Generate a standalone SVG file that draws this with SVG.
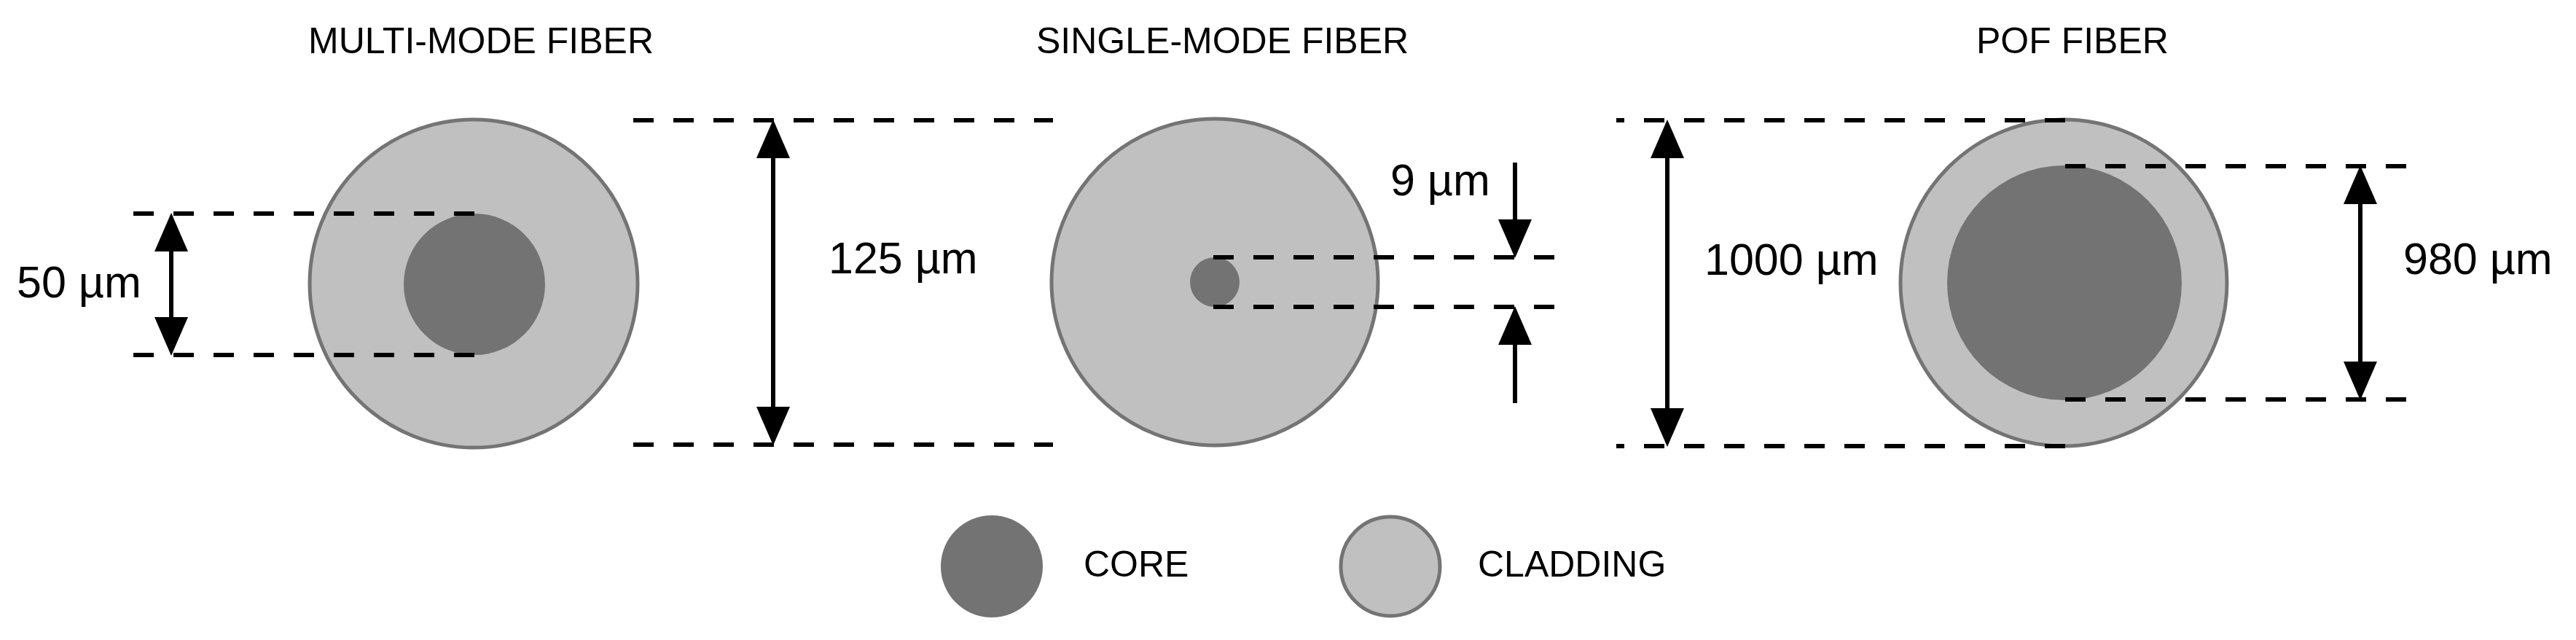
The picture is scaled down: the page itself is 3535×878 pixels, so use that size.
<svg xmlns="http://www.w3.org/2000/svg" width="3535" height="878" viewBox="0 0 3535 878">
<style>
.t{font-family:"Liberation Sans",Arial,sans-serif;fill:#000}
.title{font-size:50px}
.dim{font-size:61px}
.leg{font-size:50px}
.clad{fill:#c0c0c0;stroke:#747474;stroke-width:5}
.core{fill:#737373}
.dash{stroke:#000;stroke-width:6;stroke-dasharray:28 27;fill:none}
.arr{stroke:#000;stroke-width:6;fill:none}
.dbl{marker-start:url(#ah);marker-end:url(#ah)}
.one{marker-end:url(#ah)}
</style>
<defs>
<marker id="ah" markerUnits="userSpaceOnUse" markerWidth="54" markerHeight="48" refX="22" refY="23" orient="auto-start-reverse" viewBox="0 0 54 48">
<path d="M0,0 L53,23 L0,46 z" fill="#000"/>
</marker>
</defs>
<rect width="3535" height="878" fill="#fff"/>
<g id="multimode">
<text class="t title" x="423" y="73">MULTI-MODE FIBER</text>
<circle class="clad" cx="650" cy="389" r="225"/>
<circle class="core" cx="651" cy="390" r="97"/>
</g>
<g id="singlemode">
<text class="t title" x="1422" y="73">SINGLE-MODE FIBER</text>
<circle class="clad" cx="1667" cy="387" r="224"/>
<circle class="core" cx="1667" cy="387" r="34"/>
</g>
<g id="pof">
<text class="t title" x="2712" y="73">POF FIBER</text>
<circle class="clad" cx="2832" cy="388" r="224"/>
<circle class="core" cx="2833" cy="388" r="161"/>
</g>
<g id="connectors">
<line class="dash" x1="651" y1="293" x2="172" y2="293"/>
<line class="dash" x1="651" y1="487" x2="172" y2="487"/>
<line class="arr dbl" x1="235" y1="323" x2="235" y2="457"/>
<line class="dash" x1="869" y1="165" x2="1445" y2="165"/>
<line class="dash" x1="869" y1="610" x2="1445" y2="610"/>
<line class="arr dbl" x1="1061" y1="195" x2="1061" y2="580"/>
<line class="dash" x1="1665" y1="353" x2="2147" y2="353"/>
<line class="dash" x1="1665" y1="421" x2="2147" y2="421"/>
<line class="arr one" x1="2079" y1="223" x2="2079" y2="323"/>
<line class="arr one" x1="2079" y1="553" x2="2079" y2="451"/>
<line class="dash" x1="2834" y1="165" x2="2218" y2="165"/>
<line class="dash" x1="2834" y1="612" x2="2218" y2="612"/>
<line class="arr dbl" x1="2288" y1="195" x2="2288" y2="582"/>
<line class="dash" x1="2834" y1="228" x2="3306" y2="228"/>
<line class="dash" x1="2834" y1="548" x2="3306" y2="548"/>
<line class="arr dbl" x1="3239" y1="258" x2="3239" y2="518"/>
</g>
<g id="labels">
<text class="t dim" x="23" y="408">50 µm</text>
<text class="t dim" x="1137" y="375">125 µm</text>
<text class="t dim" x="1908" y="268">9 µm</text>
<text class="t dim" x="2339" y="377">1000 µm</text>
<text class="t dim" x="3298" y="376">980 µm</text>
</g>
<g id="legend-core">
<circle class="core" cx="1361" cy="777" r="70"/>
<text class="t leg" x="1487" y="791">CORE</text>
</g>
<g id="legend-cladding">
<circle class="clad" cx="1908" cy="777" r="68"/>
<text class="t leg" x="2028" y="791">CLADDING</text>
</g>
</svg>
